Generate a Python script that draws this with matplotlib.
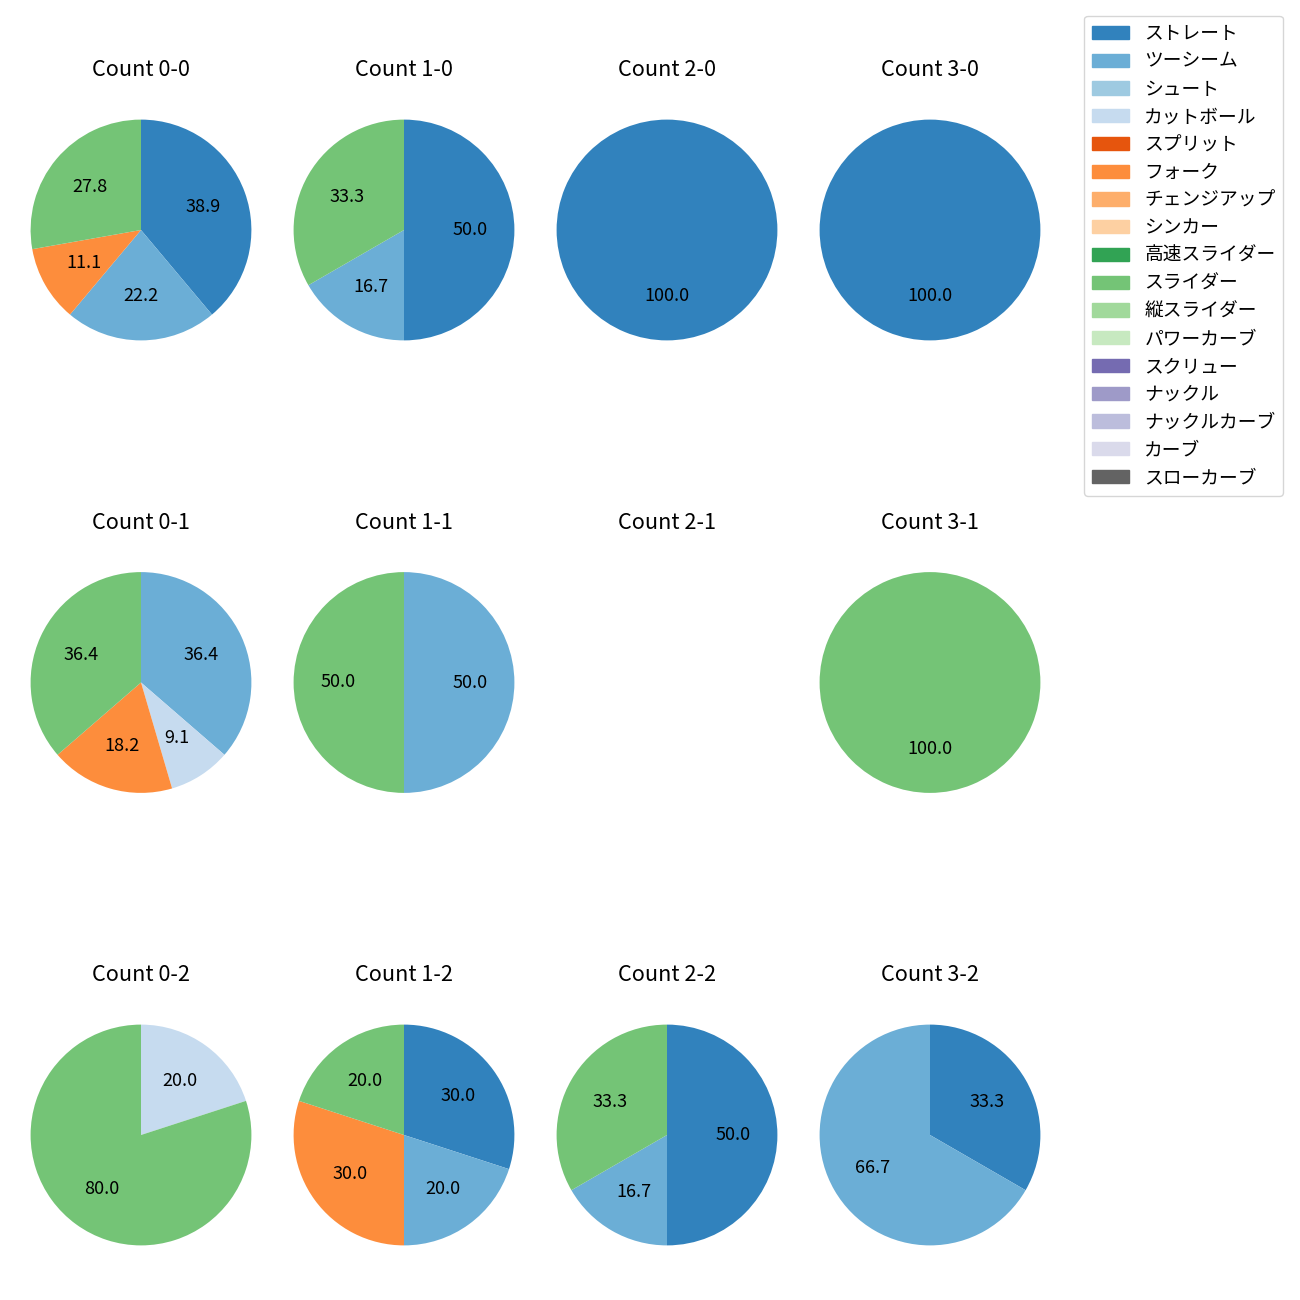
import matplotlib.pyplot as plt
from matplotlib.patches import Patch

plt.rcParams['font.family'] = ['Noto Sans CJK JP', 'DejaVu Sans']

pitch_types = ['ストレート', 'ツーシーム', 'シュート', 'カットボール', 'スプリット', 'フォーク',
               'チェンジアップ', 'シンカー', '高速スライダー', 'スライダー', '縦スライダー',
               'パワーカーブ', 'スクリュー', 'ナックル', 'ナックルカーブ', 'カーブ', 'スローカーブ']
colors = plt.get_cmap('tab20c').colors[:16] + ((0.388, 0.388, 0.388),)

# counts per pitch type (same order as pitch_types), keyed by ball-strike count
titles = ['Count 0-0', 'Count 1-0', 'Count 2-0', 'Count 3-0',
          'Count 0-1', 'Count 1-1', 'Count 2-1', 'Count 3-1',
          'Count 0-2', 'Count 1-2', 'Count 2-2', 'Count 3-2']
c00 = [7, 4, 0, 0, 0, 2, 0, 0, 0, 5, 0, 0, 0, 0, 0, 0, 0]
c10 = [3, 1, 0, 0, 0, 0, 0, 0, 0, 2, 0, 0, 0, 0, 0, 0, 0]
c20 = [1, 0, 0, 0, 0, 0, 0, 0, 0, 0, 0, 0, 0, 0, 0, 0, 0]
c30 = [1, 0, 0, 0, 0, 0, 0, 0, 0, 0, 0, 0, 0, 0, 0, 0, 0]
c01 = [0, 4, 0, 1, 0, 2, 0, 0, 0, 4, 0, 0, 0, 0, 0, 0, 0]
c11 = [0, 1, 0, 0, 0, 0, 0, 0, 0, 1, 0, 0, 0, 0, 0, 0, 0]
c21 = [0, 0, 0, 0, 0, 0, 0, 0, 0, 0, 0, 0, 0, 0, 0, 0, 0]
c31 = [0, 0, 0, 0, 0, 0, 0, 0, 0, 1, 0, 0, 0, 0, 0, 0, 0]
c02 = [0, 0, 0, 1, 0, 0, 0, 0, 0, 4, 0, 0, 0, 0, 0, 0, 0]
c12 = [3, 2, 0, 0, 0, 3, 0, 0, 0, 2, 0, 0, 0, 0, 0, 0, 0]
c22 = [3, 1, 0, 0, 0, 0, 0, 0, 0, 2, 0, 0, 0, 0, 0, 0, 0]
c32 = [1, 2, 0, 0, 0, 0, 0, 0, 0, 0, 0, 0, 0, 0, 0, 0, 0]
all_counts = [c00, c10, c20, c30, c01, c11, c21, c31, c02, c12, c22, c32]

W = H = 1300
fig, axes = plt.subplots(3, 4, figsize=(13, 13), dpi=100)

# square axes boxes, pie radius = box / 2.5
box = 276
for i in range(3):
    for j in range(4):
        cx = 141 + 263 * j
        cy = 230 + 452.5 * i
        axes[i, j].set_position([(cx - box / 2) / W, 1 - (cy + box / 2) / H, box / W, box / H])

for ax, title, counts in zip(axes.flat, titles, all_counts):
    vals = [v for v in counts if v > 0]
    cols = [c for v, c in zip(counts, colors) if v > 0]
    if vals:
        ax.pie(vals, colors=cols, autopct='%.1f', startangle=90, counterclock=False,
               textprops={'fontsize': 13})
    else:
        ax.axis('off')
    ax.set_title(title, fontsize=15.6, pad=11.5)

handles = [Patch(color=c) for c in colors]
fig.legend(handles, pitch_types, loc='upper right', bbox_to_anchor=(0.987, 0.988),
           borderaxespad=0, fontsize=13.5, labelspacing=0.36)

plt.savefig('out.png')
